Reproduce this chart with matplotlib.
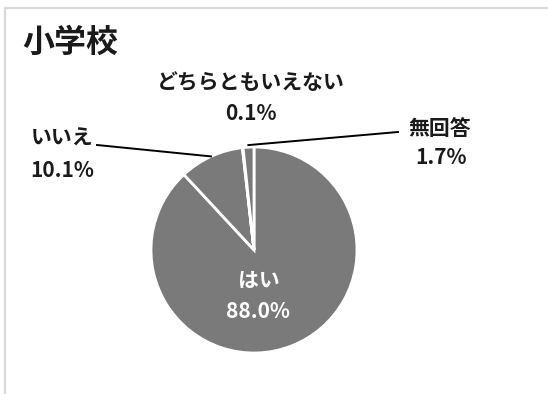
import numpy as np
from matplotlib import pyplot as plt

plt.rcParams['font.family'] = ['Noto Sans CJK JP', 'DejaVu Sans']

title = '小学校'
labels = ['はい', 'いいえ', 'どちらともいえない', '無回答']
values = [88.0, 10.1, 0.1, 1.7]

W, H = 548, 394
fig = plt.figure(figsize=(W / 100, H / 100), dpi=100)
ax = fig.add_axes([0, 0, 1, 1])

# パイの中心と半径（ピクセル単位、y は上向き）
cx, cy, r = 254, H - 250, 103
wedges, _ = ax.pie(values, colors=['#7a7a7a'] * len(values), startangle=90,
                   counterclock=False, center=(cx, cy), radius=r,
                   wedgeprops=dict(edgecolor='white', linewidth=2))
ax.set_xlim(0, W)
ax.set_ylim(0, H)
ax.set_aspect('equal')
ax.axis('off')

# 枠線（上と左）
ax.plot([5, 5, W], [0, H - 8, H - 8], color='#d9d9d9', lw=1.6, clip_on=False)

ax.text(22, H - 43, title, fontsize=23, fontweight='bold', color='#1a1a1a',
        ha='left', va='center')

# ラベル位置（名前, 割合）
label_pos = {
    'はい': ((259, 280), (258, 312), 'white'),
    'いいえ': ((62, 138), (62, 170), '#1a1a1a'),
    'どちらともいえない': ((251, 82), (251, 113), '#1a1a1a'),
    '無回答': ((440, 128), (441, 157), '#1a1a1a'),
}
for name, v in zip(labels, values):
    (lx, ly), (px, py), col = label_pos[name]
    ax.text(lx, H - ly, name, fontsize=15, fontweight='bold', color=col,
            ha='center', va='center')
    ax.text(px, H - py, f'{v:.1f}%', fontsize=15, fontweight='bold', color=col,
            ha='center', va='center')


def edge_point(w, k=1.0):
    a = np.deg2rad((w.theta1 + w.theta2) / 2)
    return cx + k * r * np.cos(a), cy + k * r * np.sin(a)


# 引き出し線
leaders = [(1, (97, 145), 1.0), (3, (398, 132), 1.02)]
for i, (sx, sy), k in leaders:
    ex, ey = edge_point(wedges[i], k)
    ax.plot([sx, ex], [H - sy, ey], color='black', lw=1.4)

fig.savefig('out.png', dpi=100)
